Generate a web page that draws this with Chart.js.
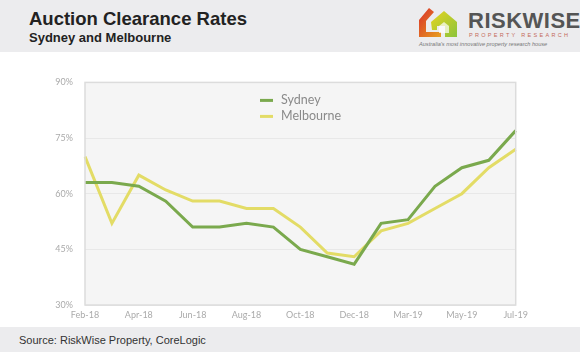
<!DOCTYPE html>
<html>
<head>
<meta charset="utf-8">
<script src="https://cdn.jsdelivr.net/npm/chart.js@4"></script>
<style>
  body { margin: 0; width: 580px; height: 352px; background: #fff; font-family: "Liberation Sans", Arial, sans-serif; overflow: hidden; position: relative; }
  #header { position: absolute; left: 0; top: 0; width: 580px; height: 52px; background: #ececee; }
  #title { position: absolute; left: 29px; top: 8px; font-size: 18.5px; font-weight: bold; color: #222; white-space: nowrap; }
  #subtitle { position: absolute; left: 29px; top: 30px; font-size: 13px; font-weight: bold; color: #222; white-space: nowrap; }
  #logo { position: absolute; left: 415px; top: 4px; }
  #brand { position: absolute; left: 468px; top: 8px; font-size: 22px; font-weight: bold; color: #555; letter-spacing: 0.5px; white-space: nowrap; }
  #brand2 { position: absolute; left: 469px; top: 32px; font-size: 5.5px; color: #c46a5a; letter-spacing: 2.3px; white-space: nowrap; }
  #tag { position: absolute; left: 419px; top: 41px; font-size: 5.6px; font-style: italic; color: #777; white-space: nowrap; }
  #footer { position: absolute; left: 0; top: 327px; width: 580px; height: 25px; background: #ececee; }
  #source { position: absolute; left: 19px; top: 7px; font-size: 11px; color: #333; }
  #wrap { position: absolute; left: 30px; top: 65px; width: 503px; height: 259px; }
</style>
</head>
<body>
<div id="header">
  <div id="title">Auction Clearance Rates</div>
  <div id="subtitle">Sydney and Melbourne</div>
  <svg id="logo" width="48" height="36" viewBox="0 0 48 36">
    <defs>
      <linearGradient id="g1" x1="0" y1="0" x2="1" y2="1">
        <stop offset="0" stop-color="#d9302a"/>
        <stop offset="1" stop-color="#e8a020"/>
      </linearGradient>
      <linearGradient id="g2" x1="0" y1="0" x2="1" y2="1">
        <stop offset="0" stop-color="#e6d420"/>
        <stop offset="1" stop-color="#8cc43c"/>
      </linearGradient>
    </defs>
    <path d="M4 16 L14 4 L19 8 L11 17 L11 28 L26 28 L26 33 L4 33 Z" fill="url(#g1)"/>
    <path d="M16 18 L29 7 L42 18 L42 33 L30 33 L30 22 L22 22 L22 26 L17 26 Z" fill="url(#g2)"/>
    <path d="M24 22 L29 18 L34 22 L34 29 L24 29 Z" fill="#fff" opacity="0.7"/>
  </svg>
  <div id="brand">RISKWISE</div>
  <div id="brand2">PROPERTY RESEARCH</div>
  <div id="tag">Australia's most innovative property research house</div>
</div>
<div id="wrap"><canvas id="chart"></canvas></div>
<div id="footer"><div id="source">Source: RiskWise Property, CoreLogic</div></div>
<script>
const months = ["Feb-18", "Mar-18", "Apr-18", "May-18", "Jun-18", "Jul-18", "Aug-18", "Sep-18", "Oct-18",
                "Nov-18", "Dec-18", "Feb-19", "Mar-19", "Apr-19", "May-19", "Jun-19", "Jul-19"];
const sydney = [63, 63, 62, 58, 51, 51, 52, 51, 45, 43, 41, 52, 53, 62, 67, 69, 77];
const melbourne = [70, 52, 65, 61, 58, 58, 56, 56, 51, 44, 43, 50, 52, 56, 60, 67, 72];
const yTicks = [30, 45, 60, 75, 90];

// plot background, border and in-plot legend
const plotDecor = {
    id: "plotDecor",
    beforeDraw(chart) {
        const a = chart.chartArea, c = chart.ctx;
        c.save();
        c.fillStyle = "#f5f5f5";
        c.fillRect(a.left, a.top, a.right - a.left, a.bottom - a.top);
        c.restore();
    },
    afterDraw(chart) {
        const a = chart.chartArea, c = chart.ctx;
        c.save();
        c.strokeStyle = "#dcdcdc";
        c.lineWidth = 1.5;
        c.strokeRect(a.left, a.top, a.right - a.left, a.bottom - a.top);
        c.font = "12.5px Lato, 'Open Sans', sans-serif";
        c.textBaseline = "middle";
        chart.data.datasets.forEach((ds, i) => {
            const y = a.top + 18 + i * 16;
            const x = a.left + 175;
            c.strokeStyle = ds.borderColor;
            c.lineWidth = 3;
            c.beginPath();
            c.moveTo(x, y);
            c.lineTo(x + 13, y);
            c.stroke();
            c.fillStyle = "#8a8a8a";
            c.fillText(ds.label, x + 21, y);
        });
        c.restore();
    }
};

const ctx = document.getElementById("chart").getContext("2d");
new Chart(ctx, {
    type: "line",
    data: {
        labels: months,
        datasets: [
            { label: "Sydney", data: sydney, borderColor: "#7aa94d", borderWidth: 3, pointRadius: 0, tension: 0 },
            { label: "Melbourne", data: melbourne, borderColor: "#e3dc66", borderWidth: 3, pointRadius: 0, tension: 0 }
        ]
    },
    options: {
        responsive: true,
        maintainAspectRatio: false,
        animation: false,
        layout: { padding: { top: 7, right: 0, left: 0, bottom: 0 } },
        plugins: { legend: { display: false }, tooltip: { enabled: false } },
        scales: {
            x: {
                grid: { display: false, drawTicks: false },
                border: { display: false },
                ticks: {
                    autoSkip: false, maxRotation: 0, padding: 5, color: "#aaa",
                    font: { size: 9, family: "Lato, 'Open Sans', sans-serif" },
                    callback: (v, i) => (i % 2 === 0 ? months[i] : "")
                },
                afterFit: s => { s.height = 19; }
            },
            y: {
                min: 30, max: 90,
                afterBuildTicks: s => { s.ticks = yTicks.map(v => ({ value: v })); },
                grid: { color: "#e8e8e8", lineWidth: 1, drawTicks: false },
                border: { display: false },
                ticks: {
                    padding: 12, color: "#aaa",
                    font: { size: 9, family: "Lato, 'Open Sans', sans-serif" },
                    callback: v => v + "%"
                },
                afterFit: s => { s.width = 55; }
            }
        }
    },
    plugins: [plotDecor]
});
</script>
</body>
</html>
